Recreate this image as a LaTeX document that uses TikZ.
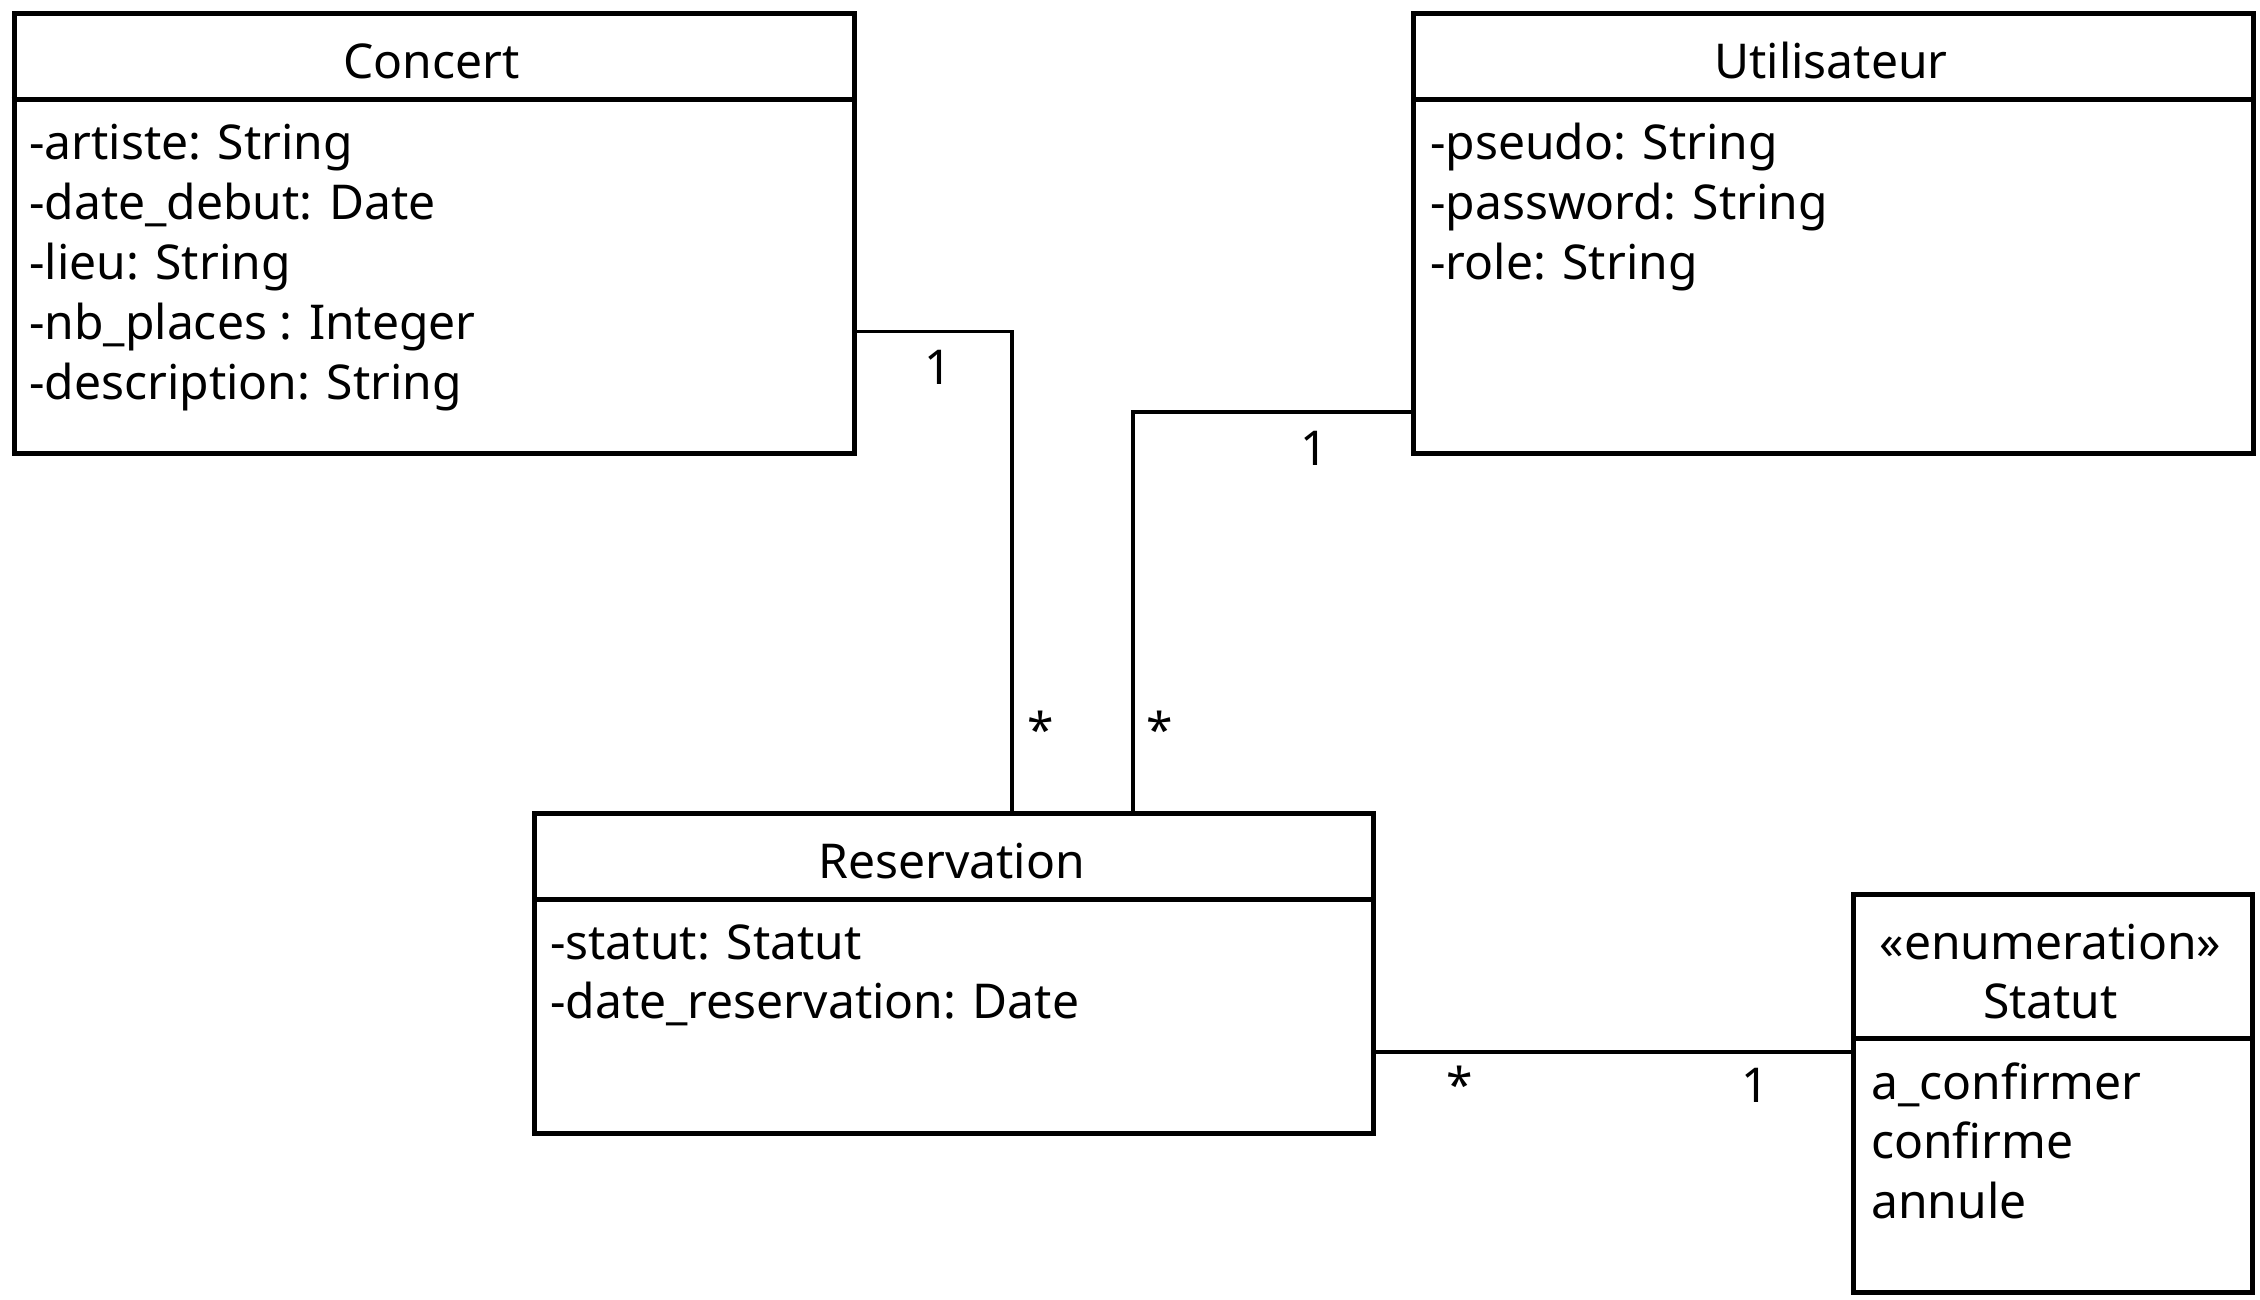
\documentclass[tikz,border=0pt]{standalone}
\usepackage{fontspec}
\setmainfont{Noto Sans}
\begin{document}
\begin{tikzpicture}[x=1pt,y=-1pt,
  box/.style={draw, line width=5pt, rectangle, anchor=north west, inner sep=0pt},
  sep/.style={line width=5pt},
  assoc/.style={line width=3.5pt},
  txt/.style={inner sep=0pt, font=\fontsize{48}{58}\selectfont},
  attr/.style={txt, anchor=mid west},
  ttl/.style={txt, anchor=mid},
  mult/.style={txt, anchor=mid}]
\path[use as bounding box] (0,0) rectangle (2260,1300);
% Concert
\node[box, minimum width=840.5pt, minimum height=439.5pt] (concert) at (11.5,11.5) {};
\draw[sep] (11.5,99.5) -- (852,99.5);
\node[ttl] (concertT) at (431.5,76) {Concert};
\node[attr] (c1) at (29,157) {-artiste: String};
\node[attr] (c2) at (29,217) {-date\_debut: Date};
\node[attr] (c3) at (29,277) {-lieu: String};
\node[attr] (c4) at (29,337) {-nb\_places : Integer};
\node[attr] (c5) at (29,397) {-description: String};
% Utilisateur
\node[box, minimum width=840pt, minimum height=439.5pt] (user) at (1411,11.5) {};
\draw[sep] (1411,99.5) -- (2251,99.5);
\node[ttl] (userT) at (1831,76) {Utilisateur};
\node[attr] (u1) at (1430,157) {-pseudo: String};
\node[attr] (u2) at (1430,217) {-password: String};
\node[attr] (u3) at (1430,277) {-role: String};
% Reservation
\node[box, minimum width=839pt, minimum height=320pt] (resa) at (532,811) {};
\draw[sep] (532,899) -- (1371,899);
\node[ttl] (resaT) at (951.5,876) {Reservation};
\node[attr] (r1) at (550,957) {-statut: Statut};
\node[attr] (r2) at (550,1016) {-date\_reservation: Date};
% Statut
\node[box, minimum width=399pt, minimum height=398pt] (statut) at (1851,892) {};
\draw[sep] (1851,1038) -- (2250,1038);
\node[ttl] (statutS) at (2050.5,957) {«enumeration»};
\node[ttl] (statutT) at (2050.5,1016) {Statut};
\node[attr] (s1) at (1871,1097) {a\_confirmer};
\node[attr] (s2) at (1871,1156) {confirme};
\node[attr] (s3) at (1871,1216) {annule};
% connectors
\draw[assoc] (concert.east |- {(0,331.5)}) -| (resa.north -| {(1012,0)});
\draw[assoc] (user.west |- {(0,412)}) -| (resa.north -| {(1133,0)});
\draw[assoc] (resa.east |- {(0,1052)}) -- (statut.west |- {(0,1052)});
% multiplicities
\node[mult] (m1) at (938,382) {1};
\node[mult] (m2) at (1040.5,744.5) {*};
\node[mult] (m3) at (1314.5,463) {1};
\node[mult] (m4) at (1160,744.5) {*};
\node[mult] (m5) at (1460,1100) {*};
\node[mult] (m6) at (1755.5,1100) {1};
\end{tikzpicture}
\end{document}
